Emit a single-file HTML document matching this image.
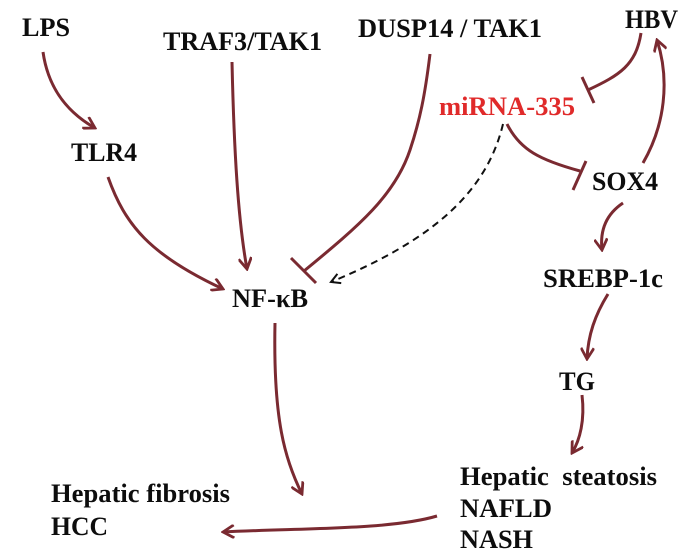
<!DOCTYPE html>
<html><head><meta charset="utf-8"><style>
html,body{margin:0;padding:0;background:#fff;}
svg{display:block;}
text{font-family:"Liberation Serif","Times New Roman",serif;font-weight:bold;font-size:26px;fill:#0d0d0d;}
</style></head><body>
<svg width="700" height="552" viewBox="0 0 700 552" xmlns="http://www.w3.org/2000/svg">
<defs>
<marker id="a" viewBox="0 0 14 14" refX="12" refY="7" markerWidth="14" markerHeight="14" orient="auto" markerUnits="userSpaceOnUse">
<path d="M1,0.5 L12,7 L1,13.5" fill="none" stroke="#7a2a31" stroke-width="2.8" stroke-linejoin="miter"/>
</marker>
<marker id="d" viewBox="0 0 12 12" refX="10" refY="6" markerWidth="12" markerHeight="12" orient="auto" markerUnits="userSpaceOnUse">
<path d="M1,1 L10,6 L1,11" fill="none" stroke="#111" stroke-width="2"/>
</marker>
</defs>
<rect width="700" height="552" fill="#fff"/>
<g fill="none" stroke="#7a2a31" stroke-width="3" stroke-linecap="butt">
<path d="M43,52 C47,80 60,108 95,128" marker-end="url(#a)"/>
<path d="M108,177 C125,225 150,255 223,289" marker-end="url(#a)"/>
<path d="M232,62 C234,150 238,220 247,269" marker-end="url(#a)"/>
<path d="M430,54 C425,95 420,120 410,150 C395,195 360,225 304,271"/>
<line x1="291" y1="258" x2="316" y2="283"/>
<path d="M641,33 C636,65 620,75 588,90"/>
<line x1="582" y1="77" x2="594" y2="103"/>
<path d="M507,124 C520,150 540,160 580,171"/>
<line x1="586" y1="161" x2="573" y2="190"/>
<path d="M643,163 C665,125 670,80 657,40" marker-end="url(#a)"/>
<path d="M623,203 C605,215 600,232 602,250" marker-end="url(#a)"/>
<path d="M608,294 C595,315 588,335 587,359" marker-end="url(#a)"/>
<path d="M582,395 C585,420 580,440 572,453" marker-end="url(#a)"/>
<path d="M275,323 C273,420 285,460 302,494" marker-end="url(#a)"/>
<path d="M437,516 C390,530 300,528 223,532" marker-end="url(#a)"/>
</g>
<path d="M503,124 C485,200 420,245 331,282" fill="none" stroke="#111" stroke-width="2" stroke-dasharray="7,5" marker-end="url(#d)"/>
<text x="22" y="36" textLength="48" lengthAdjust="spacingAndGlyphs">LPS</text>
<text x="163" y="50" textLength="159" lengthAdjust="spacingAndGlyphs">TRAF3/TAK1</text>
<text x="358" y="37" textLength="184" lengthAdjust="spacingAndGlyphs">DUSP14 / TAK1</text>
<text x="625" y="28" textLength="53" lengthAdjust="spacingAndGlyphs">HBV</text>
<text x="439" y="115" textLength="136" lengthAdjust="spacingAndGlyphs" style="fill:#e02a2a">miRNA-335</text>
<text x="71" y="161" textLength="66" lengthAdjust="spacingAndGlyphs">TLR4</text>
<text x="592" y="190" textLength="66" lengthAdjust="spacingAndGlyphs">SOX4</text>
<text x="232" y="307" textLength="76" lengthAdjust="spacingAndGlyphs">NF-κB</text>
<text x="543" y="287" textLength="120" lengthAdjust="spacingAndGlyphs">SREBP-1c</text>
<text x="559" y="390" textLength="36" lengthAdjust="spacingAndGlyphs">TG</text>
<text x="460" y="485" textLength="197" lengthAdjust="spacingAndGlyphs" xml:space="preserve">Hepatic  steatosis</text>
<text x="460" y="517" textLength="92" lengthAdjust="spacingAndGlyphs">NAFLD</text>
<text x="460" y="548" textLength="73" lengthAdjust="spacingAndGlyphs">NASH</text>
<text x="51" y="502" textLength="179" lengthAdjust="spacingAndGlyphs">Hepatic fibrosis</text>
<text x="51" y="535" textLength="57" lengthAdjust="spacingAndGlyphs">HCC</text>
</svg>
</body></html>
